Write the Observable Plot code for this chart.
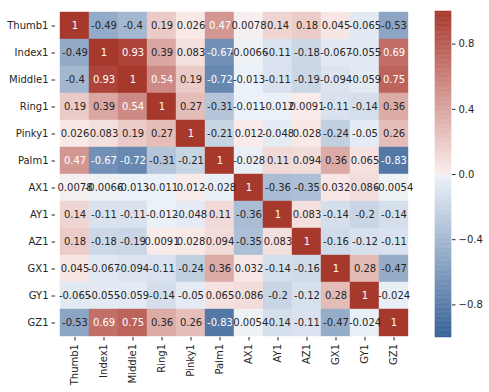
<!DOCTYPE html>
<html>
<head>
<meta charset="utf-8">
<script src="https://cdn.jsdelivr.net/npm/d3@7"></script>
<script src="https://cdn.jsdelivr.net/npm/@observablehq/plot@0.6"></script>
<style>
  html, body { margin: 0; padding: 0; background: #fff; }
  #wrap { position: relative; width: 489px; height: 392px; }
  #wrap > svg { position: absolute; top: 0; }
</style>
</head>
<body>
<div id="wrap"></div>
<script>
const labels = ["Thumb1","Index1","Middle1","Ring1","Pinky1","Palm1","AX1","AY1","AZ1","GX1","GY1","GZ1"];
const Thumb1 = [1, -0.49, -0.4, 0.19, 0.026, 0.47, 0.0078, 0.14, 0.18, 0.045, -0.065, -0.53];
const Index1 = [-0.49, 1, 0.93, 0.39, 0.083, -0.67, -0.0066, -0.11, -0.18, -0.067, -0.055, 0.69];
const Middle1 = [-0.4, 0.93, 1, 0.54, 0.19, -0.72, -0.013, -0.11, -0.19, -0.094, -0.059, 0.75];
const Ring1 = [0.19, 0.39, 0.54, 1, 0.27, -0.31, -0.011, -0.012, 0.0091, -0.11, -0.14, 0.36];
const Pinky1 = [0.026, 0.083, 0.19, 0.27, 1, -0.21, 0.012, -0.048, 0.028, -0.24, -0.05, 0.26];
const Palm1 = [0.47, -0.67, -0.72, -0.31, -0.21, 1, -0.028, 0.11, 0.094, 0.36, 0.065, -0.83];
const AX1 = [0.0078, -0.0066, -0.013, -0.011, 0.012, -0.028, 1, -0.36, -0.35, 0.032, 0.086, -0.0054];
const AY1 = [0.14, -0.11, -0.11, -0.012, -0.048, 0.11, -0.36, 1, 0.083, -0.14, -0.2, -0.14];
const AZ1 = [0.18, -0.18, -0.19, 0.0091, 0.028, 0.094, -0.35, 0.083, 1, -0.16, -0.12, -0.11];
const GX1 = [0.045, -0.067, -0.094, -0.11, -0.24, 0.36, 0.032, -0.14, -0.16, 1, 0.28, -0.47];
const GY1 = [-0.065, -0.055, -0.059, -0.14, -0.05, 0.065, 0.086, -0.2, -0.12, 0.28, 1, -0.024];
const GZ1 = [-0.53, 0.69, 0.75, 0.36, 0.26, -0.83, -0.0054, -0.14, -0.11, -0.47, -0.024, 1];
const rows = [Thumb1, Index1, Middle1, Ring1, Pinky1, Palm1, AX1, AY1, AZ1, GX1, GY1, GZ1];
const colorbarTicks = [-0.8, -0.4, 0, 0.4, 0.8];

// --- seaborn diverging_palette(250, 15, s=75, l=40, center="light") rebuilt via HUSL ---
const M = [[3.2406,-1.5372,-0.4986],[-0.9689,1.8758,0.0415],[0.0557,-0.2040,1.0570]];
function maxChroma(L, H) {
  const hr = H * Math.PI / 180, s = Math.sin(hr), c = Math.cos(hr);
  const sub1 = Math.pow(L + 16, 3) / 1560896;
  const sub2 = sub1 > 0.008856 ? sub1 : L / 903.3;
  let res = Infinity;
  for (const [m1, m2, m3] of M) {
    const top = (0.99915*m1 + 1.05122*m2 + 1.14460*m3) * sub2;
    const rb = 0.86330*m3 - 0.17266*m2;
    const lb = 0.12949*m3 - 0.38848*m1;
    const bottom = (rb*s + lb*c) * sub2;
    for (const t of [0, 1]) {
      const C = L * (top - 1.05122*t) / (bottom + 0.17266*s*t);
      if (C > 0 && C < res) res = C;
    }
  }
  return res;
}
function huslToRgb(H, S, L) {
  const C = maxChroma(L, H) / 100 * S;
  const hr = H * Math.PI / 180;
  const U = Math.cos(hr) * C, V = Math.sin(hr) * C;
  const t = (L + 16) / 116;
  const Y = t*t*t > 0.008856 ? t*t*t : (116*t - 16) / 903.3;
  const vu = U / (13*L) + 0.19784, vv = V / (13*L) + 0.46834;
  const X = -(9*Y*vu) / ((vu - 4)*vv - vu*vv);
  const Z = (9*Y - 15*vv*Y - vv*X) / (3*vv);
  return M.map(r => {
    const c = r[0]*X + r[1]*Y + r[2]*Z;
    const v = c <= 0.0031308 ? 12.92*c : 1.055*Math.pow(c, 1/2.4) - 0.055;
    return Math.max(0, Math.min(1, v));
  });
}
function lightOf(rgb) {
  const h = d3.hsl(d3.rgb(rgb[0]*255, rgb[1]*255, rgb[2]*255));
  h.l = 0.95;
  const r = d3.rgb(h);
  return [r.r/255, r.g/255, r.b/255];
}
const mix = (a, b, f) => a.map((v, i) => v + (b[i] - v) * f);
const blue = huslToRgb(250, 75, 40), red = huslToRgb(15, 75, 40);
const lightBlue = lightOf(blue), lightRed = lightOf(red);
const nodes = [];
for (let k = 0; k < 128; k++) nodes.push(mix(blue, lightBlue, k / 127));
nodes.push([0.95, 0.95, 0.95]);
for (let k = 0; k < 128; k++) nodes.push(mix(lightRed, red, k / 127));
const lut = d3.range(256).map(i => {
  const x = i / 255 * 256;
  const j = Math.min(255, Math.floor(x));
  return mix(nodes[j], nodes[Math.min(256, j + 1)], x - j);
});
function lutRgb(t) {
  const i = Math.max(0, Math.min(255, Math.floor(t * 256)));
  return lut[i];
}
const toCss = c => d3.rgb(c[0]*255, c[1]*255, c[2]*255).formatHex();
const interp = t => toCss(lutRgb(t));
function luminance(v) {
  const c = lutRgb((v + 1) / 2).map(x => x <= 0.03928 ? x / 12.92 : Math.pow((x + 0.055) / 1.055, 2.4));
  return 0.2126*c[0] + 0.7152*c[1] + 0.0722*c[2];
}
const isDarkCell = d => luminance(d.value) <= (d.value < 0 ? 0.36 : 0.408);

const cells = [];
rows.forEach((r, i) => r.forEach((v, j) => cells.push({row: labels[i], col: labels[j], value: v})));

const loc = d3.formatLocale({decimal: ".", thousands: ",", grouping: [3], currency: ["$", ""], minus: "-"});
const fmt = loc.format(".2~g");

const colorOpts = {type: "linear", domain: [-1, 1], interpolate: interp};
const font = {fontFamily: "DejaVu Sans", fontSize: "10px", color: "#262626", background: "transparent"};

const main = Plot.plot({
  width: 489, height: 392,
  marginLeft: 55, marginRight: 77, marginTop: 11, marginBottom: 55,
  style: font,
  x: {domain: labels, padding: 0, label: null, tickRotate: -90, tickSize: 3.5, tickPadding: 3},
  y: {domain: labels, padding: 0, label: null, tickSize: 3.5, tickPadding: 3.5},
  color: colorOpts,
  marks: [
    Plot.cell(cells, {x: "col", y: "row", fill: "value", stroke: "value", strokeWidth: 0.4, inset: 0}),
    Plot.text(cells.filter(d => !isDarkCell(d)), {x: "col", y: "row", text: d => fmt(d.value), fill: "#262626", fontSize: 10}),
    Plot.text(cells.filter(d => isDarkCell(d)), {x: "col", y: "row", text: d => fmt(d.value), fill: "white", fontSize: 10})
  ]
});

const steps = d3.range(256).map(i => ({v0: -1 + i * 2 / 256, v1: -1 + (i + 1) * 2 / 256}));
const bar = Plot.plot({
  width: 59, height: 392,
  marginLeft: 5, marginRight: 38, marginTop: 11, marginBottom: 55,
  style: font,
  x: {domain: [0, 1], axis: null},
  y: {domain: [-1, 1], axis: "right", label: null, ticks: colorbarTicks, tickFormat: ".1f", tickSize: 3.5, tickPadding: 3.5},
  color: colorOpts,
  marks: [
    Plot.rect(steps, {x1: 0, x2: 1, y1: "v0", y2: "v1", fill: d => (d.v0 + d.v1) / 2, stroke: d => (d.v0 + d.v1) / 2, strokeWidth: 0.5})
  ]
});
bar.style.left = "430px";
main.style.left = "0px";
const wrap = document.getElementById("wrap");
wrap.appendChild(main);
wrap.appendChild(bar);
</script>
</body>
</html>
